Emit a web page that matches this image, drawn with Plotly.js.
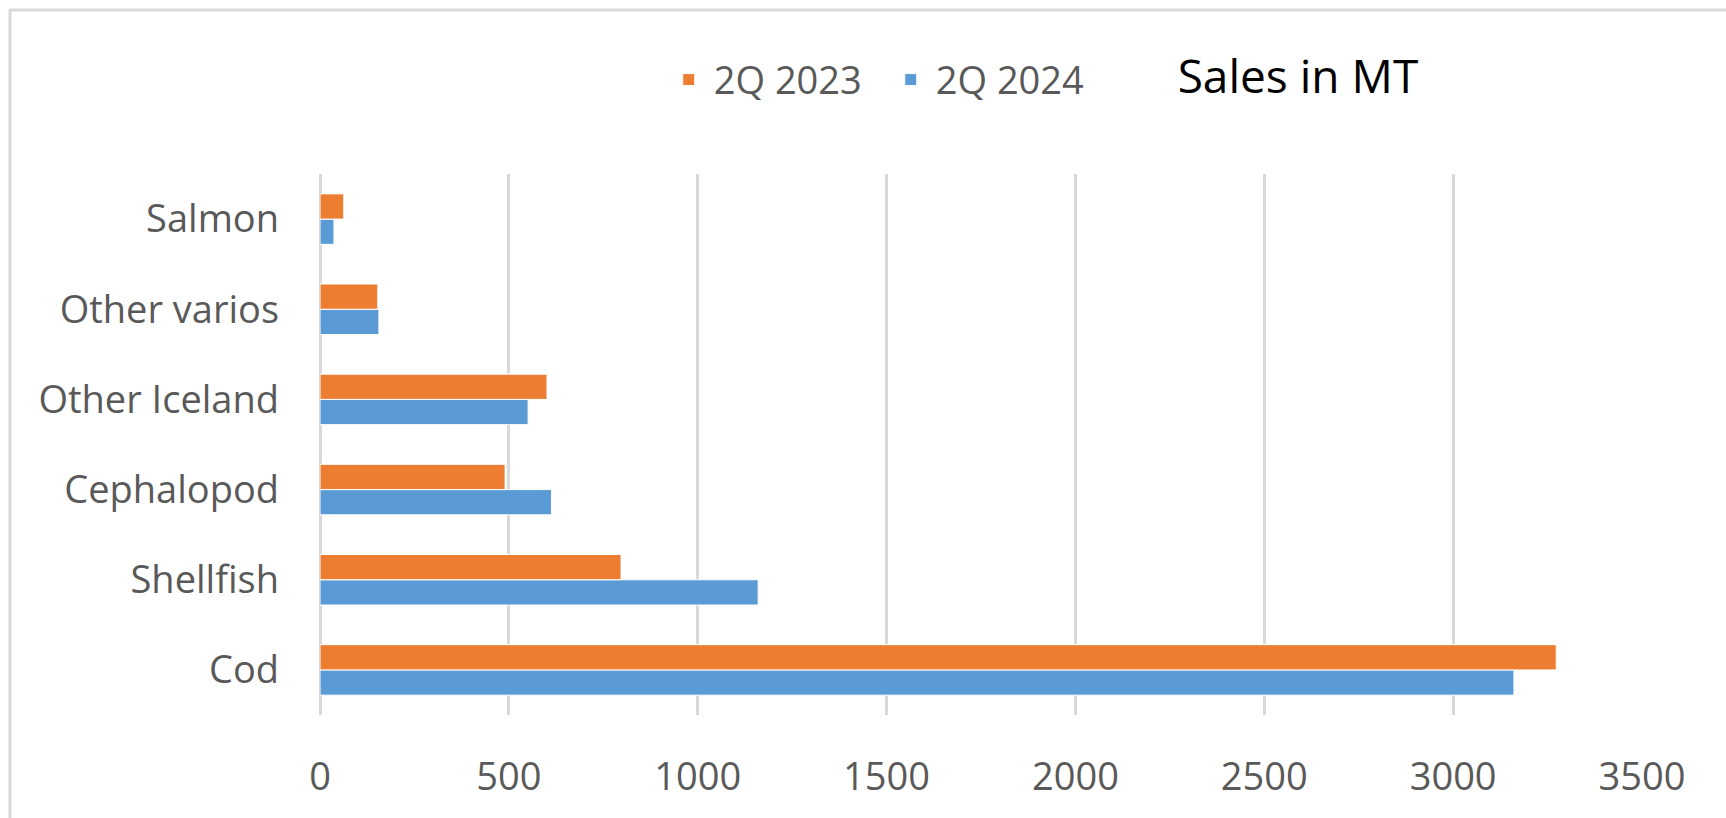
<!DOCTYPE html>
<html>
<head>
<meta charset="utf-8">
<script src="https://cdn.plot.ly/plotly-3.0.1.min.js"></script>
<style>
html,body{margin:0;padding:0;background:#fff;}
#chart{width:1726px;height:818px;}
</style>
</head>
<body>
<div id="chart"></div>
<script>
const categories = ['Cod', 'Shellfish', 'Cephalopod', 'Other Iceland', 'Other varios', 'Salmon'];
const sales2Q2023 = [3273, 797, 490, 601, 153, 63];
const sales2Q2024 = [3161, 1160, 613, 551, 156, 37];
const xTicks = [0, 500, 1000, 1500, 2000, 2500, 3000, 3500];
const seriesNames = ['2Q 2023', '2Q 2024'];
const chartTitle = 'Sales in MT';

const fontFam = '"Open Sans", "Noto Sans", sans-serif';
const grey = '#595959';

const traces = [
  {
    type: 'bar', orientation: 'h', name: seriesNames[1],
    y: categories, x: sales2Q2024,
    marker: {color: '#5B9BD5', line: {color: '#ffffff', width: 1}},
    legendrank: 2, hoverinfo: 'x+y+name'
  },
  {
    type: 'bar', orientation: 'h', name: seriesNames[0],
    y: categories, x: sales2Q2023,
    marker: {color: '#ED7D31', line: {color: '#ffffff', width: 1}},
    legendrank: 1, hoverinfo: 'x+y+name'
  }
];

const layout = {
  width: 1726, height: 818,
  margin: {l: 320, r: 84, t: 174, b: 103, pad: 0},
  paper_bgcolor: '#ffffff', plot_bgcolor: '#ffffff',
  font: {family: fontFam, color: grey, size: 38},
  barmode: 'group',
  bargap: 0.44,
  bargroupgap: 0,
  title: {
    text: chartTitle,
    font: {family: fontFam, size: 46, color: '#000000'},
    x: 0.752, xanchor: 'center', xref: 'container',
    y: 0.906, yanchor: 'middle', yref: 'container'
  },
  xaxis: {
    range: [0, 3500],
    tickvals: xTicks,
    ticktext: xTicks.map(String),
    showgrid: true, gridcolor: '#d9d9d9', gridwidth: 3,
    zeroline: true, zerolinecolor: '#d9d9d9', zerolinewidth: 3,
    showline: false,
    ticks: '',
    ticklabelstandoff: 36,
    tickfont: {family: fontFam, size: 38, color: grey},
    fixedrange: true
  },
  yaxis: {
    type: 'category',
    categoryorder: 'array', categoryarray: categories,
    showgrid: false, zeroline: false, showline: false,
    ticks: '',
    ticklabelstandoff: 40,
    tickfont: {family: fontFam, size: 38, color: grey},
    fixedrange: true
  },
  showlegend: true,
  legend: {
    orientation: 'h',
    x: 0.26, xanchor: 'left',
    y: 1.174, yanchor: 'middle',
    itemwidth: 40,
    entrywidth: 167,
    entrywidthmode: 'pixels',
    font: {family: fontFam, size: 38, color: grey},
    bgcolor: 'rgba(0,0,0,0)',
    itemclick: false, itemdoubleclick: false
  },
  shapes: [
    {
      type: 'path', xref: 'paper', yref: 'paper',
      path: 'M -0.2345,-0.25 L -0.2345,1.303 L 1.08,1.303',
      line: {color: '#d9d9d9', width: 3},
      layer: 'below'
    }
  ]
};

Plotly.newPlot('chart', traces, layout, {displayModeBar: false, staticPlot: false});
</script>
</body>
</html>
